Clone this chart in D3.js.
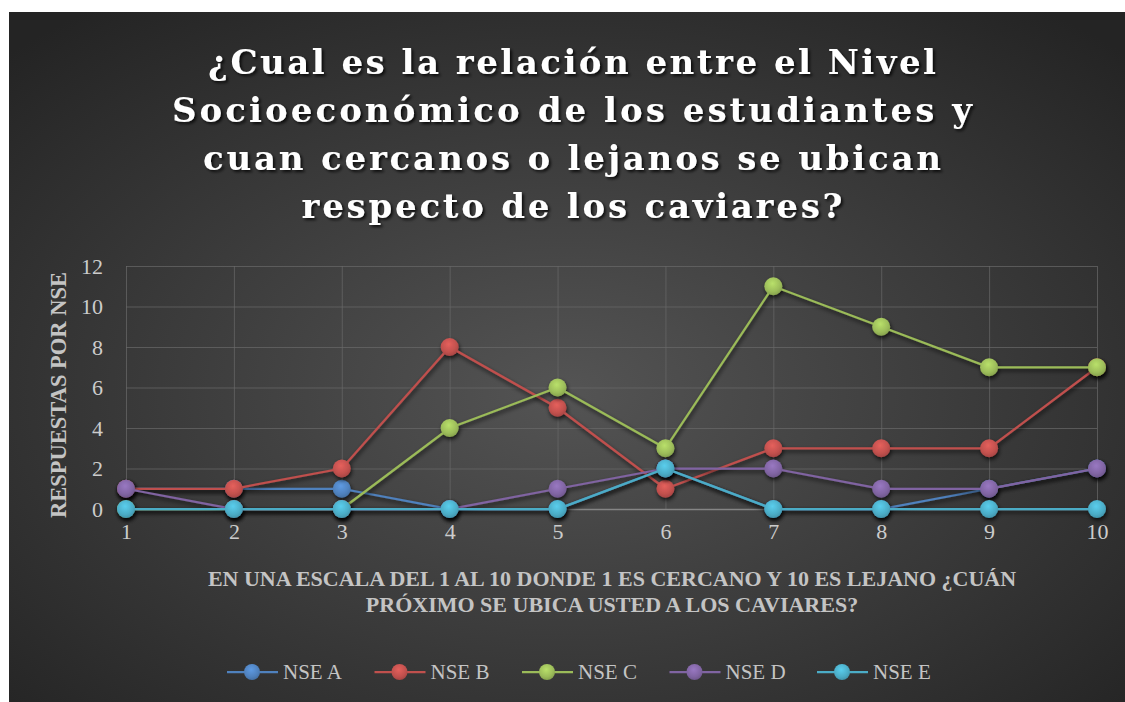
<!DOCTYPE html>
<html>
<head>
<meta charset="utf-8">
<script src="https://cdn.jsdelivr.net/npm/d3@7"></script>
<style>
  body { margin: 0; background: #fff; }
  svg { display: block; }
</style>
</head>
<body>
<svg id="chart" width="1125" height="702"></svg>
<script>
// data
var categories = [1, 2, 3, 4, 5, 6, 7, 8, 9, 10];
var seriesNames = ["NSE A", "NSE B", "NSE C", "NSE D", "NSE E"];
var nseA = [1, 1, 1, 0, 0, 2, 0, 0, 1, 2];
var nseB = [1, 1, 2, 8, 5, 1, 3, 3, 3, 7];
var nseC = [0, 0, 0, 4, 6, 3, 11, 9, 7, 7];
var nseD = [1, 0, 0, 0, 1, 2, 2, 1, 1, 2];
var nseE = [0, 0, 0, 0, 0, 2, 0, 0, 0, 0];
var yTicks = [0, 2, 4, 6, 8, 10, 12];
var colors = ["#4f81bd", "#c0504d", "#9bbb59", "#8064a2", "#4bacc6"];

var titleLines = [
  "¿Cual es la relación entre el Nivel",
  "Socioeconómico de los estudiantes y",
  "cuan cercanos o lejanos se ubican",
  "respecto de los caviares?"
];
var titleWidths = [728, 800, 738, 541];
var xTitleLines = [
  "EN UNA ESCALA DEL 1 AL 10 DONDE 1 ES CERCANO Y 10 ES LEJANO ¿CUÁN",
  "PRÓXIMO SE UBICA USTED A LOS CAVIARES?"
];
var yTitle = "RESPUESTAS POR NSE";

var allSeries = [nseA, nseB, nseC, nseD, nseE].map(function(vals, i) {
  return { name: seriesNames[i], color: colors[i],
    values: vals.map(function(v, j) { return { x: categories[j], y: v }; }) };
});

var svg = d3.select("#chart");
var defs = svg.append("defs");

// background gradient
var bg = defs.append("radialGradient").attr("id", "bg")
  .attr("cx", "50%").attr("cy", "55%").attr("r", "70%");
bg.append("stop").attr("offset", "0%").attr("stop-color", "#545454");
bg.append("stop").attr("offset", "100%").attr("stop-color", "#242424");

var shadow = defs.append("filter").attr("id", "shadow")
  .attr("x", "-50%").attr("y", "-50%").attr("width", "200%").attr("height", "200%");
shadow.append("feDropShadow").attr("dx", 1).attr("dy", 2.5).attr("stdDeviation", 2)
  .attr("flood-color", "#000").attr("flood-opacity", 0.75);

var tshadow = defs.append("filter").attr("id", "tshadow")
  .attr("x", "-10%").attr("y", "-30%").attr("width", "120%").attr("height", "160%");
tshadow.append("feDropShadow").attr("dx", 2).attr("dy", 2).attr("stdDeviation", 1.5)
  .attr("flood-color", "#000").attr("flood-opacity", 0.8);

colors.forEach(function(c, i) {
  var g = defs.append("radialGradient").attr("id", "dot" + i)
    .attr("cx", "45%").attr("cy", "35%").attr("r", "65%");
  g.append("stop").attr("offset", "0%").attr("stop-color", d3.color(c).brighter(0.5));
  g.append("stop").attr("offset", "70%").attr("stop-color", c);
  g.append("stop").attr("offset", "100%").attr("stop-color", d3.color(c).darker(0.4));
});

svg.append("rect").attr("x", 9).attr("y", 12).attr("width", 1116).attr("height", 690)
  .attr("fill", "url(#bg)");

// title
svg.append("g").attr("filter", "url(#tshadow)")
  .selectAll("text").data(titleLines).enter().append("text")
  .attr("x", 572)
  .attr("y", function(d, i) { return 74 + i * 48; })
  .attr("text-anchor", "middle")
  .attr("textLength", function(d, i) { return titleWidths[i]; })
  .attr("lengthAdjust", "spacing")
  .style("font-family", "'DejaVu Serif', serif")
  .style("font-weight", "bold")
  .style("font-size", "34px")
  .style("fill", "#fff")
  .text(function(d) { return d; });

var margin = { left: 126, right: 28, top: 266, bottom: 193 };
var width = 1125 - margin.left - margin.right,
    height = 702 - margin.top - margin.bottom;

var g = svg.append("g").attr("transform", "translate(" + margin.left + "," + margin.top + ")");

var x = d3.scalePoint().domain(categories).range([0, width]);
var y = d3.scaleLinear().domain([0, 12]).range([height, 0]);

// gridlines
g.append("g")
  .call(d3.axisLeft(y).tickValues(yTicks).tickSize(-width).tickFormat(""))
  .call(function(s) {
    s.select(".domain").remove();
    s.selectAll("line").attr("stroke", "#6a6a6a").attr("stroke-opacity", 0.7);
  });
g.append("g")
  .call(d3.axisBottom(x).tickSize(height).tickFormat(""))
  .call(function(s) {
    s.select(".domain").remove();
    s.selectAll("line").attr("stroke", "#6a6a6a").attr("stroke-opacity", 0.7);
  });

// y tick labels
g.append("g")
  .call(d3.axisLeft(y).tickValues(yTicks).tickSize(0).tickPadding(23))
  .call(function(s) {
    s.select(".domain").remove();
    s.selectAll("text")
      .style("font-family", "'Liberation Serif', serif")
      .style("font-size", "22px")
      .style("fill", "#cccccc");
  });

// x axis
g.append("g").attr("transform", "translate(0," + height + ")")
  .call(d3.axisBottom(x).tickSize(0).tickPadding(14))
  .call(function(s) {
    s.select(".domain").attr("stroke", "#858585").attr("stroke-width", 1.5);
    s.selectAll("text")
      .style("font-family", "'Liberation Serif', serif")
      .style("font-size", "22px")
      .style("fill", "#cccccc");
  });

// series
var line = d3.line().x(function(d) { return x(d.x); }).y(function(d) { return y(d.y); });

var sg = g.selectAll(".series").data(allSeries).enter().append("g")
  .attr("class", "series").attr("filter", "url(#shadow)");
sg.append("path")
  .attr("d", function(d) { return line(d.values); })
  .attr("fill", "none")
  .attr("stroke", function(d) { return d.color; })
  .attr("stroke-width", 2.25);
sg.each(function(d, i) {
  d3.select(this).selectAll("circle").data(d.values).enter().append("circle")
    .attr("cx", function(p) { return x(p.x); })
    .attr("cy", function(p) { return y(p.y); })
    .attr("r", 9)
    .attr("fill", "url(#dot" + i + ")");
});

// axis titles
svg.selectAll(".xtitle").data(xTitleLines).enter().append("text")
  .attr("class", "xtitle")
  .attr("x", 612)
  .attr("y", function(d, i) { return 586 + i * 26; })
  .attr("text-anchor", "middle")
  .style("font-family", "'Liberation Serif', serif")
  .style("font-weight", "bold")
  .style("font-size", "22px")
  .style("fill", "#c4c4c4")
  .text(function(d) { return d; });

svg.append("text")
  .attr("transform", "translate(66,395) rotate(-90)")
  .attr("text-anchor", "middle")
  .style("font-family", "'Liberation Serif', serif")
  .style("font-weight", "bold")
  .style("font-size", "22.5px")
  .style("fill", "#c4c4c4")
  .text(yTitle);

// legend
var legend = svg.append("g").attr("transform", "translate(227,672)");
var li = legend.selectAll("g").data(allSeries).enter().append("g")
  .attr("transform", function(d, i) { return "translate(" + (i * 147.5) + ",0)"; });
li.append("line").attr("x1", 0).attr("x2", 51)
  .attr("stroke", function(d) { return d.color; }).attr("stroke-width", 2.25);
li.append("circle").attr("cx", 25).attr("r", 8)
  .attr("fill", function(d, i) { return "url(#dot" + i + ")"; });
li.append("text").attr("x", 56).attr("y", 7)
  .style("font-family", "'Liberation Serif', serif")
  .style("font-size", "21px")
  .style("fill", "#c4c4c4")
  .text(function(d) { return d.name; });
</script>
</body>
</html>
